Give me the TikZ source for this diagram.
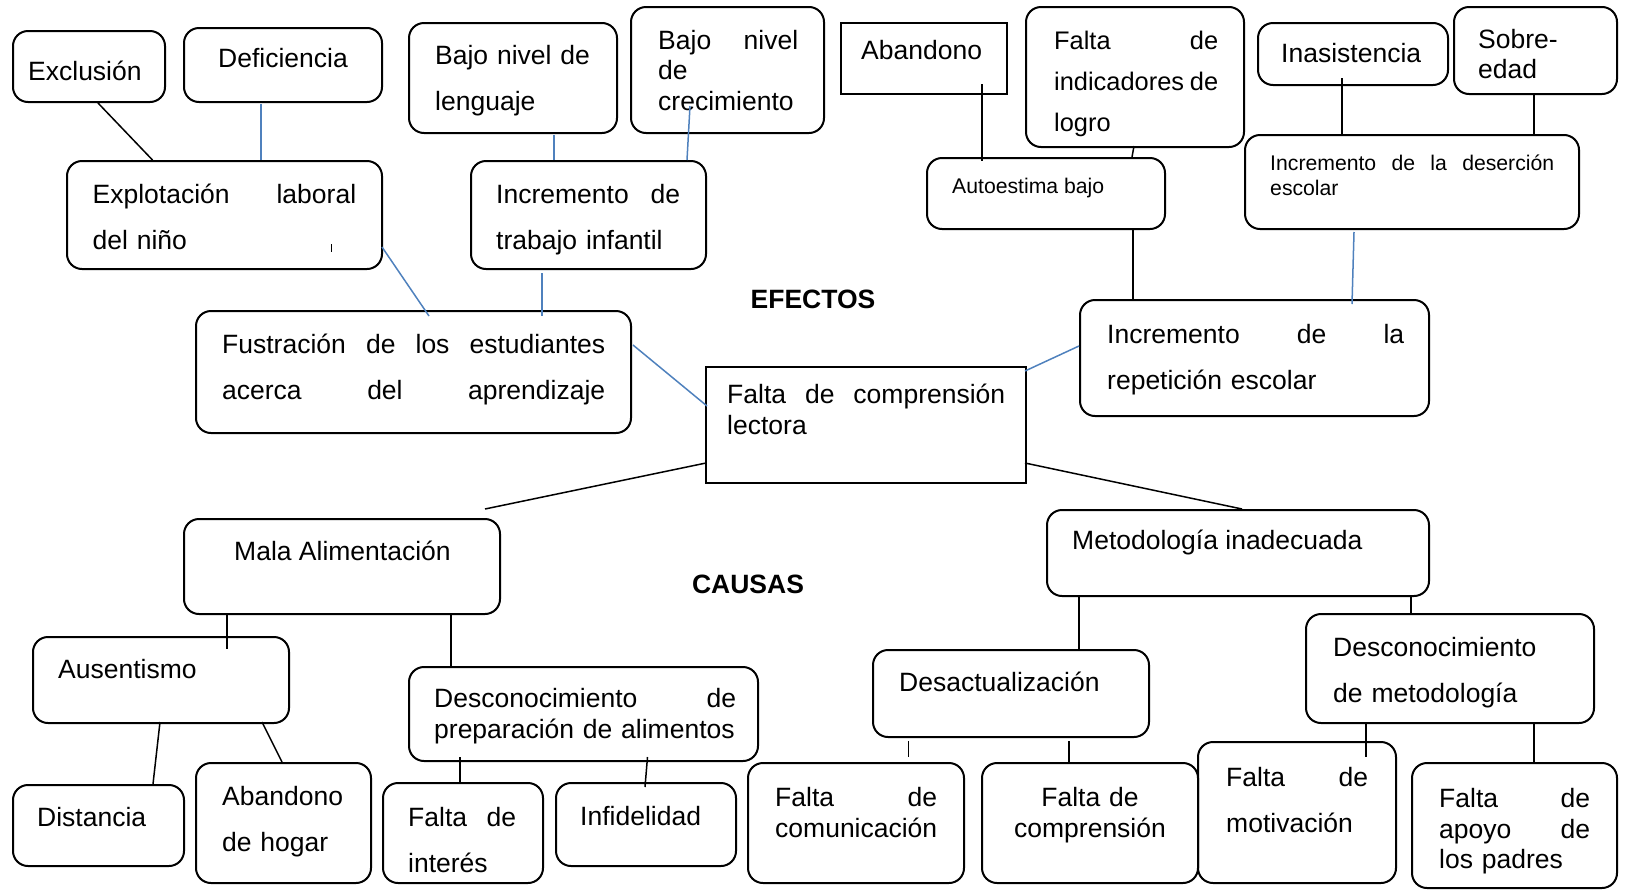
\documentclass[tikz,border=0pt]{standalone}
\usepackage{fontspec}
\setmainfont{Liberation Sans}
\usetikzlibrary{fit,calc}
\definecolor{linkblue}{RGB}{79,129,189}

\begin{document}
\begin{tikzpicture}[x=1pt, y=-1pt,
        card/.style={ draw, rounded corners=15pt, line width=2pt, inner sep=0pt },
        sheet/.style={ draw, line width=2pt, inner sep=0pt },
        words/.style={ anchor=base west, inner sep=0pt, align=left,
          font=\fontsize{26.5}{30.5}\selectfont },
        spaced/.style={ font=\fontsize{26.5}{46}\selectfont },
        smallwords/.style={ font=\fontsize{21.2}{25}\selectfont },
        heading/.style={ inner sep=0pt, font=\fontsize{26.5}{30.5}\selectfont\bfseries },
        tie/.style={ line width=1.5pt },
        bluetie/.style={ line width=1.5pt, draw=linkblue } ]
        \useasboundingbox (0,0) rectangle (1629,892);

        % boxes
        \foreach \n/\xa/\ya/\xb/\yb in {exclusion/13/31/165/102,
          deficiencia/184/28/382/102, lenguaje/409/23/617/133,
          crecim/631/7/824/133, indicadores/1026/7/1244/147,
          inasist/1258/23/1448/85, sobreedad/1454/7/1617/94,
          explotacion/67/161/382/269, trabajo/471/161/706/269,
          autoestima/927/158/1165/229, desercion/1245/135/1579/229,
          fustracion/196/311/631/433, repeticion/1080/300/1429/416,
          mala/184/519/500/614, metodologia/1047/510/1429/596,
          ausentismo/33/637/289/723, prepara/409/667/758/761,
          desact/873/650/1149/737, desmetod/1306/614/1594/723,
          distancia/13/785/184/866, hogar/196/763/371/883,
          interes/383/783/543/883, infidelidad/556/783/736/866,
          comunic/748/763/964/883, comprension/982/763/1198/883,
          motivacion/1198/742/1396/883, apoyo/1412/763/1617/888}
        \node[card, fit={(\xa,\ya) (\xb,\yb)}] (\n) {};

        \foreach \n/\xa/\ya/\xb/\yb in {abandono/841/23/1007/94,
          falta/706/367/1026/483}
        \node[sheet, fit={(\xa,\ya) (\xb,\yb)}] (\n) {};

        % texts
        \node[words] (exclusion-t) at (28,80) {Exclusión};
        \node[words] (deficiencia-t) at (218,67.5) {Deficiencia};
        \node[words,spaced,text width=190pt] (lenguaje-t) at (435,64.5) {Bajo nivel de\\lenguaje};
        \node[words,text width=140pt] (crecim-t) at (658,49) {Bajo\hfill nivel\\de\\crecimiento};
        \node[words] (abandono-t) at (861,59.5) {Abandono};
        \node[words,text width=164pt,font=\fontsize{25.4}{41}\selectfont] (indicadores-t)
          at (1054,49) {Falta\hfill de\\indicadores\hfill de\\logro};
        \node[words] (inasist-t) at (1281,62.5) {Inasistencia};
        \node[words,text width=120pt] (sobreedad-t) at (1478,48) {Sobre-\\edad};
        \node[words,spaced,text width=263.5pt] (explotacion-t) at (92.5,203.5) {Explotación\hfill laboral\\del niño};
        \node[words,spaced,text width=184pt] (trabajo-t) at (496,203.5) {Incremento\hfill de\\trabajo infantil};
        \node[words,smallwords] (autoestima-t) at (952,193.5) {Autoestima bajo};
        \node[words,smallwords,text width=284pt] (desercion-t) at (1270,170.5)
          {Incremento\hfill de\hfill la\hfill deserción\\escolar};
        \node[heading] (efectos) at (813,299) {EFECTOS};
        \node[words,spaced,text width=383pt] (fustracion-t) at (222,353.5)
          {Fustración\hfill de\hfill los\hfill estudiantes\\acerca\hfill del\hfill aprendizaje};
        \node[words,spaced,text width=297pt] (repeticion-t) at (1107,343) {Incremento\hfill de\hfill la\\repetición escolar};
        \node[words,text width=278pt] (falta-t) at (727,403.5) {Falta\hfill de\hfill comprensión\\lectora};
        \node[words] (mala-t) at (234,560.5) {Mala Alimentación};
        \node[heading] (causas) at (748,584) {CAUSAS};
        \node[words] (metodologia-t) at (1072,549.5) {Metodología inadecuada};
        \node[words] (ausentismo-t) at (58,678.5) {Ausentismo};
        \node[words,text width=302pt] (prepara-t) at (434,707.5) {Desconocimiento\hfill de\\preparación de alimentos};
        \node[words] (desact-t) at (899,691.5) {Desactualización};
        \node[words,spaced,text width=250pt] (desmetod-t) at (1333,656.5) {Desconocimiento\\de metodología};
        \node[words] (distancia-t) at (37,826.5) {Distancia};
        \node[words,spaced,text width=140pt] (hogar-t) at (222,805.5) {Abandono\\de hogar};
        \node[words,spaced,text width=108pt] (interes-t) at (408,826.5) {Falta\hfill de\\interés};
        \node[words] (infidelidad-t) at (580,825.5) {Infidelidad};
        \node[words,text width=162pt] (comunic-t) at (775,806.5) {Falta\hfill de\\comunicación};
        \node[words,anchor=base,align=center,text width=216pt] (comprension-t) at (1090,806.5) {Falta de\\comprensión};
        \node[words,spaced,text width=142pt] (motivacion-t) at (1226,786.5) {Falta\hfill de\\motivación};
        \node[words,text width=151pt] (apoyo-t) at (1439,807.5) {Falta\hfill de\\apoyo\hfill de\\los padres};

        % links
        \foreach \a/\ax/\ay/\b/\bx/\by in {exclusion/86/73/explotacion/86.5/0,
          abandono/142/62/autoestima/56/4, indicadores/109/140/autoestima/206/0,
          inasist/85/56/desercion/98/0, sobreedad/81/87/desercion/290/0,
          autoestima/207/71/repeticion/54/0, falta/1/97/mala/302/-9,
          falta/320/97/metodologia/196/0, mala/44/95/ausentismo/195/13,
          mala/268/95/prepara/43/0, ausentismo/128/86/distancia/141/0,
          ausentismo/230/86/hogar/87/0, prepara/52/91/interes/78/0,
          prepara/239.5/91/infidelidad/90/5, metodologia/33/86/desact/207/0,
          metodologia/365/86/desmetod/106/0, desact/36.5/92/comunic/161.5/-5,
          desact/197/92/comprension/88/0, desmetod/61/109/motivacion/169/16,
          desmetod/229/109/apoyo/123/0}
        \draw[tie] ($(\a.north west)+(\ax,\ay)$) -- ($(\b.north west)+(\bx,\by)$);

        \foreach \a/\ax/\ay/\b/\bx/\by in {deficiencia/78/77/explotacion/195/0,
          lenguaje/146/113/trabajo/84/0, crecim/60/100/trabajo/217/0,
          explotacion/316/87/fustracion/234/6, trabajo/72/113/fustracion/347/6,
          fustracion/438/35/falta/2/40, desercion/110/98/repeticion/273/5,
          falta/320/5/repeticion/0/47}
        \draw[bluetie] ($(\a.north west)+(\ax,\ay)$) -- ($(\b.north west)+(\bx,\by)$);

        \draw[tie] ($(explotacion.north west)+(265.5,84)$) -- ($(explotacion.north west)+(265.5,92)$);
      \end{tikzpicture}
\end{document}
